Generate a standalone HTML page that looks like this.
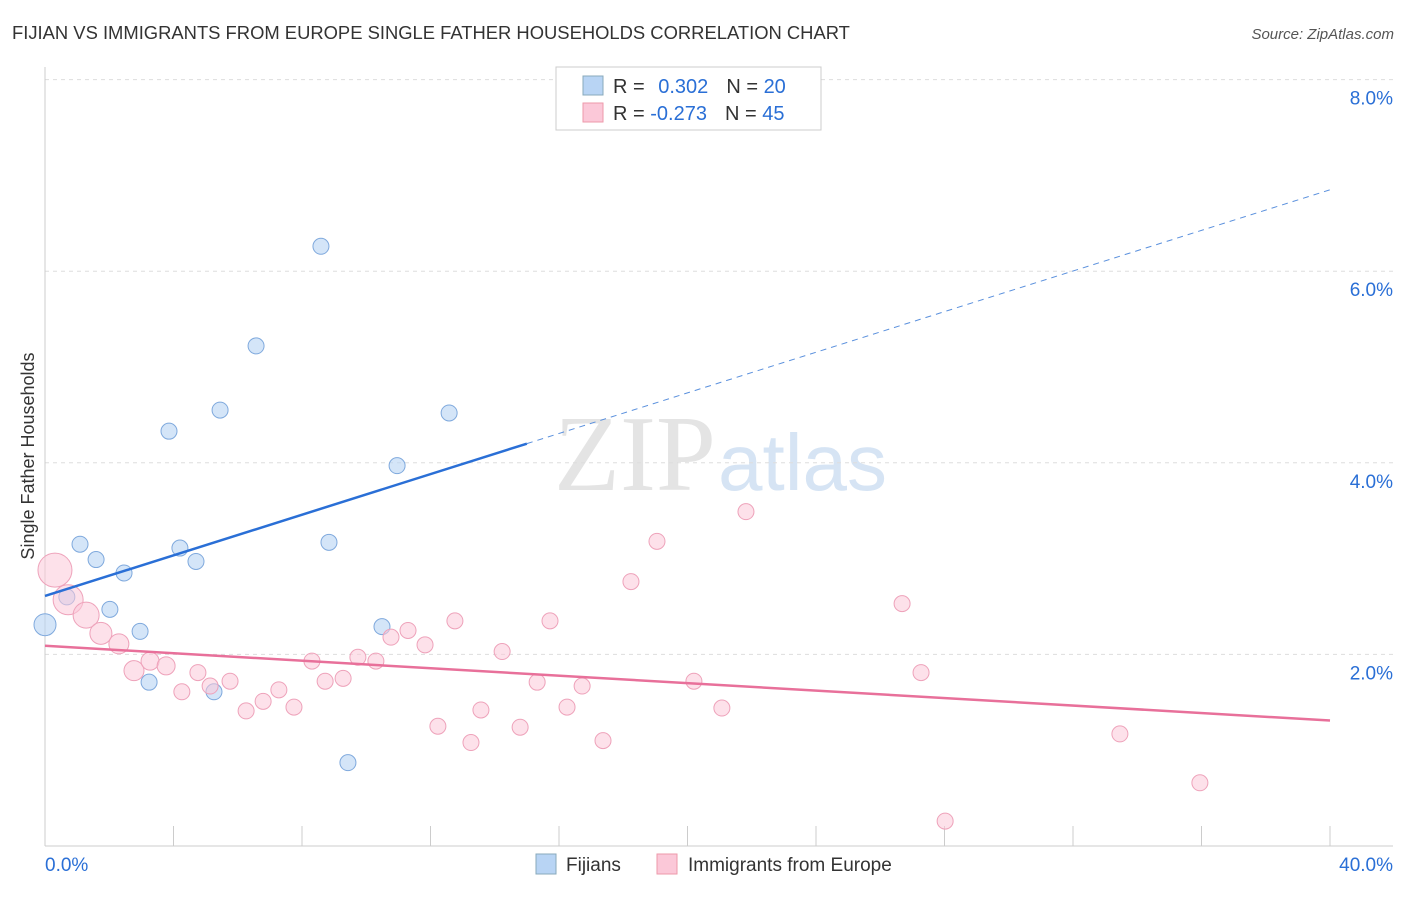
<!DOCTYPE html>
<html><head><meta charset="utf-8"><style>
body{margin:0;background:#fff;font-family:"Liberation Sans",sans-serif}
</style></head><body>
<svg id="chart" width="1406" height="892" xmlns="http://www.w3.org/2000/svg" font-family="Liberation Sans, sans-serif">
<text x="12" y="39" font-size="18.4" fill="#333">FIJIAN VS IMMIGRANTS FROM EUROPE SINGLE FATHER HOUSEHOLDS CORRELATION CHART</text>
<text x="1394" y="39" font-size="15" fill="#555" text-anchor="end" font-style="italic">Source: ZipAtlas.com</text>
<text x="716" y="490" font-size="108" fill="#e4e4e4" text-anchor="end" font-family="Liberation Serif, serif">ZIP</text>
<text x="718" y="490" font-size="80" fill="#d6e4f4">atlas</text>
<g id="grid"></g><g id="marks"></g>
<text transform="translate(34,456) rotate(-90)" font-size="18" fill="#333" text-anchor="middle">Single Father Households</text>
<g>
<rect x="556" y="67" width="265" height="63" fill="#fff" stroke="#ccc"/>
<rect x="583" y="76" width="20" height="19" fill="#b8d4f4" stroke="#8ab"/>
<rect x="583" y="103" width="20" height="19" fill="#fbc8d8" stroke="#e9a"/>
<text x="613" y="93" font-size="20" fill="#333">R = <tspan fill="#2a6fd6" dx="8">0.302</tspan><tspan dx="18" fill="#333">N = </tspan><tspan fill="#2a6fd6">20</tspan></text>
<text x="613" y="120" font-size="20" fill="#333">R = <tspan fill="#2a6fd6">-0.273</tspan><tspan dx="18" fill="#333">N = </tspan><tspan fill="#2a6fd6">45</tspan></text>
</g>
<g>
<rect x="536" y="854" width="20" height="20" fill="#b8d4f4" stroke="#8ab"/>
<text x="566" y="871" font-size="19" fill="#333">Fijians</text>
<rect x="657" y="854" width="20" height="20" fill="#fbc8d8" stroke="#e9a"/>
<text x="688" y="871" font-size="19" fill="#333">Immigrants from Europe</text>
</g>
</svg>
<script>
const yTicks=[2,4,6,8];
const yTickLabels=["2.0%","4.0%","6.0%","8.0%"];
const xTickLabels=["0.0%","40.0%"];
const blueX=[0,0.68,1.09,1.59,2.02,2.46,2.96,3.24,3.86,4.20,4.70,5.26,5.45,6.57,8.59,8.84,9.43,10.49,10.96,12.58];
const blueY=[2.31,2.60,3.15,2.99,2.47,2.85,2.24,1.71,4.33,3.11,2.97,1.61,4.55,5.22,6.26,3.17,0.87,2.29,3.97,4.52];
const blueR=[11,8,8,8,8,8,8,8,8,8,8,8,8,8,8,8,8,8,8,8];
const pinkX=[0.31,0.72,1.28,1.74,2.30,2.77,3.27,3.77,4.26,4.76,5.14,5.76,6.26,6.79,7.28,7.75,8.31,8.72,9.28,9.74,10.30,10.77,11.30,11.83,12.23,12.76,13.26,13.57,14.23,14.79,15.32,15.72,16.25,16.72,17.37,18.24,19.05,20.20,21.07,21.82,26.68,27.27,28.02,33.46,35.95];
const pinkY=[2.88,2.57,2.41,2.22,2.11,1.83,1.93,1.88,1.61,1.81,1.67,1.72,1.41,1.51,1.63,1.45,1.93,1.72,1.75,1.97,1.93,2.18,2.25,2.10,1.25,2.35,1.08,1.42,2.03,1.24,1.71,2.35,1.45,1.67,1.10,2.76,3.18,1.72,1.44,3.49,2.53,1.81,0.26,1.17,0.66];
const pinkR=[17,15,13,11,10,10,9,9,8,8,8,8,8,8,8,8,8,8,8,8,8,8,8,8,8,8,8,8,8,8,8,8,8,8,8,8,8,8,8,8,8,8,8,8,8];
const blueTrend=[2.61,6.85];
const blueSolidEnd=15;
const pinkTrend=[2.09,1.31];
const NS="http://www.w3.org/2000/svg";
const xs=v=>45+v*32.125, ys=v=>846-v*95.8;
function mk(t,a,p){const e=document.createElementNS(NS,t);for(const k in a)e.setAttribute(k,a[k]);p.appendChild(e);return e;}
const g=document.getElementById('grid'),m=document.getElementById('marks');
yTicks.forEach((t,i)=>{
 const l=mk('line',{x1:45,x2:1393,y1:ys(t),y2:ys(t),stroke:'#ddd','stroke-dasharray':'4,4'},g);
 
 
 const tx=mk('text',{x:1393,y:ys(t)+25,'font-size':19,fill:'#2a6fd6','text-anchor':'end'},g);tx.textContent=yTickLabels[i];
 
 
});
mk('line',{x1:45,x2:45,y1:67,y2:846,stroke:'#ccc'},g);
mk('line',{x1:45,x2:1393,y1:846,y2:846,stroke:'#ccc'},g);
for(let i=1;i<=10;i++){const l=mk('line',{x1:xs(i*4),x2:xs(i*4),y1:826,y2:846,stroke:'#ccc'},g);
 
 }
[0,40].forEach((v,i)=>{const t=mk('text',{x:i?1393:45,y:871,'font-size':19,fill:'#2a6fd6','text-anchor':i?'end':'start'},g);t.textContent=xTickLabels[i];
 
 });
blueX.forEach((x,i)=>{const c=mk('circle',{cx:xs(x),cy:ys(blueY[i]),r:blueR[i],fill:'rgba(184,212,244,0.6)',stroke:'#7fa9dd','stroke-width':1},m);
 
 });
pinkX.forEach((x,i)=>{const c=mk('circle',{cx:xs(x),cy:ys(pinkY[i]),r:pinkR[i],fill:'rgba(251,200,216,0.55)',stroke:'#eea2ba','stroke-width':1},m);
 
 });
const bAt=x=>blueTrend[0]+(blueTrend[1]-blueTrend[0])*x/40;
let l1=mk('line',{x1:xs(0),y1:ys(bAt(0)),x2:xs(blueSolidEnd),y2:ys(bAt(blueSolidEnd)),stroke:'#2a6fd6','stroke-width':2.5},m);


let l2=mk('line',{x1:xs(blueSolidEnd),y1:ys(bAt(blueSolidEnd)),x2:xs(40),y2:ys(bAt(40)),stroke:'#5a90dd','stroke-width':1,'stroke-dasharray':'6,5'},m);


let l3=mk('line',{x1:xs(0),y1:ys(pinkTrend[0]),x2:xs(40),y2:ys(pinkTrend[1]),stroke:'#e8709a','stroke-width':2.5},m);


</script>
</body></html>
